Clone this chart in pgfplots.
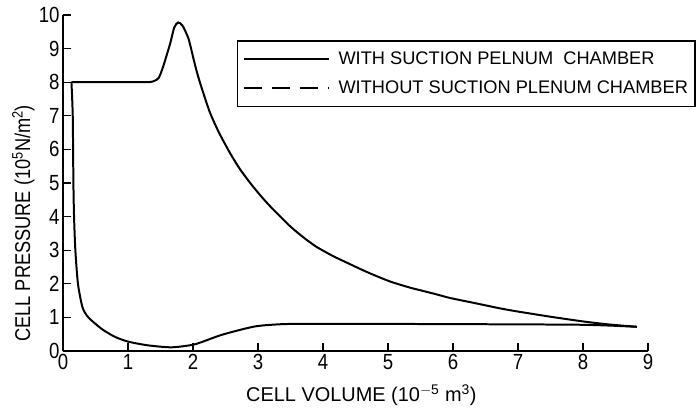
\documentclass[border=0pt]{standalone}
\usepackage{fontspec}
\setmainfont{Liberation Sans}
\newfontfamily\condensed{Liberation Sans}[FakeStretch=0.85]
\usepackage{pgfplots}
\pgfplotsset{compat=1.18}
\begin{document}
\begin{tikzpicture}
\begin{axis}[
  scale only axis,
  width=585bp, height=336bp,
  xmin=0, xmax=9, ymin=0, ymax=10,
  axis lines=left,
  axis line style={-, line width=1.5pt},
  xtick={0,...,9}, ytick={0,...,10},
  tick align=inside,
  major tick length=8bp,
  tick style={line width=1.2pt, black},
  /pgf/number format/assume math mode=true,
  tick label style={font=\condensed\fontsize{22}{22}\selectfont},
  xlabel={CELL VOLUME (10\textsuperscript{$-$5} m\textsuperscript{3})},
  ylabel={CELL PRESSURE (10\textsuperscript{5}N/m\textsuperscript{2})},
  xlabel style={font=\fontsize{20}{20}\selectfont, at={(axis description cs:0.51,0)}, anchor=north, yshift=-30bp},
  ylabel style={font=\condensed\fontsize{21.5}{21.5}\selectfont, at={(axis description cs:0,0.38)}, anchor=south, yshift=25bp},
  legend style={at={(axis description cs:0.297,0.925)}, anchor=north west,
    draw=black, line width=1.6pt, inner xsep=5bp, inner ysep=9bp,
    font=\fontsize{18.3}{18.3}\selectfont, row sep=11bp},
  legend cell align=left,
  legend image code/.code={\draw[#1, line width=2pt] (0bp,0bp) -- (85bp,0bp); \path (92bp,0bp);},
]
\addplot[black, line width=2pt, smooth, tension=0.4] coordinates {
(8.83,0.72) (8.4,0.79) (8.0,0.88) (7.5,1.02) (6.98,1.18) (6.72,1.27) (6.35,1.42)
(5.95,1.58) (5.7,1.71) (5.35,1.88) (5.03,2.07) (4.7,2.33) (4.42,2.58) (4.15,2.83)
(3.90,3.10) (3.7,3.38) (3.49,3.72) (3.21,4.26) (3.05,4.6) (2.88,5.0) (2.72,5.42)
(2.57,5.89) (2.4,6.5) (2.26,7.1) (2.13,7.85) (2.06,8.3) (2.0,8.76) (1.93,9.3)
(1.84,9.68) (1.77,9.78) (1.71,9.62)
(1.65,9.16) (1.54,8.46) (1.47,8.12) (1.38,8.02) (1.28,8.0) (0.9,8.0) (0.13,8.0)
};
\addlegendentry{WITH SUCTION PELNUM\ \ CHAMBER}
\addlegendimage{black, dash pattern=on 18bp off 10bp}
\addlegendentry{WITHOUT SUCTION PLENUM CHAMBER}
\addplot[black, line width=2pt, smooth, tension=0.4, forget plot] coordinates {
(0.13,8.0) (0.15,7.0) (0.16,5.0) (0.17,4.0) (0.19,3.0) (0.23,2.0) (0.30,1.3)
(0.39,1.0) (0.6,0.65) (0.8,0.42) (1.0,0.28) (1.3,0.17) (1.67,0.11) (2.03,0.2)
(2.44,0.48) (2.95,0.73) (3.39,0.80) (4,0.81) (6,0.80) (8,0.78) (8.83,0.72)
};
\end{axis}
\pgfresetboundingbox
\path[use as bounding box] (-63bp,-66bp) rectangle (634bp,351bp);
\end{tikzpicture}
\end{document}
